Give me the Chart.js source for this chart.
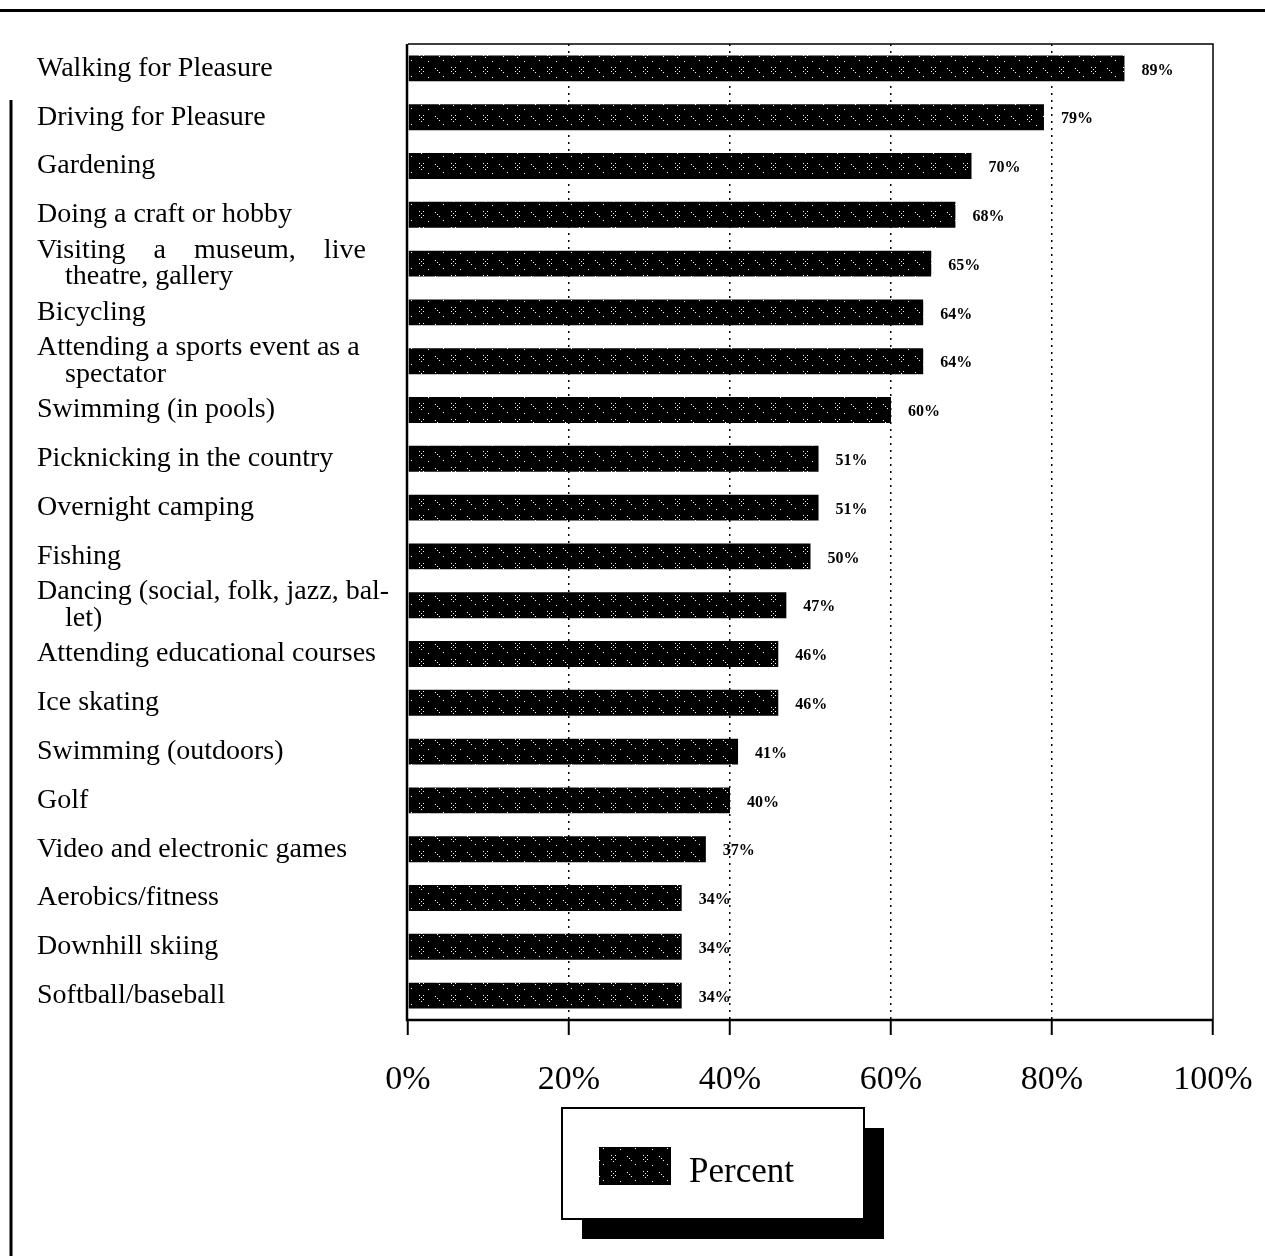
<!DOCTYPE html>
<html>
<head>
<meta charset="utf-8">
<title>Leisure activities</title>
<script src="https://cdn.jsdelivr.net/npm/chart.js@4.4.1/dist/chart.umd.min.js"></script>
<style>
  html, body { margin: 0; padding: 0; background: #fff; }
  #wrap { position: relative; width: 1265px; height: 1256px; }
</style>
</head>
<body>
<div id="wrap"><canvas id="myChart"></canvas></div>
<script>
// categorias (linhas de varias linhas como arrays)
const activities = [
    'Walking for Pleasure',
    'Driving for Pleasure',
    'Gardening',
    'Doing a craft or hobby',
    ['Visiting    a    museum,    live', '    theatre, gallery'],
    'Bicycling',
    ['Attending a sports event as a', '    spectator'],
    'Swimming (in pools)',
    'Picknicking in the country',
    'Overnight camping',
    'Fishing',
    ['Dancing (social, folk, jazz, bal-', '    let)'],
    'Attending educational courses',
    'Ice skating',
    'Swimming (outdoors)',
    'Golf',
    'Video and electronic games',
    'Aerobics/fitness',
    'Downhill skiing',
    'Softball/baseball'
];
const percentValues = [89, 79, 70, 68, 65, 64, 64, 60, 51, 51, 50, 47, 46, 46, 41, 40, 37, 34, 34, 34];
const xTicks = [0, 20, 40, 60, 80, 100];
const seriesLabel = 'Percent';

const serif = '"Liberation Serif", "DejaVu Serif", serif';

// padrão quase preto com poucos pontinhos brancos (retícula)
function makePattern() {
    const c = document.createElement('canvas');
    c.width = 32; c.height = 16;
    const g = c.getContext('2d');
    g.fillStyle = '#000';
    g.fillRect(0, 0, 32, 16);
    g.fillStyle = '#fff';
    const dots = [[3, 3], [7, 3], [5, 5], [3, 7], [7, 7], [5, 9], [19, 4], [23, 8], [21, 6], [27, 12], [12, 13]];
    dots.forEach(([x, y]) => g.fillRect(x, y, 1, 1));
    return g.createPattern(c, 'repeat');
}
const barFill = makePattern();

// moldura da página e caixa do gráfico
const framePlugin = {
    id: 'frame',
    afterDraw(chart) {
        const { ctx, chartArea: a } = chart;
        ctx.save();
        ctx.strokeStyle = '#000';
        ctx.lineWidth = 3;
        ctx.beginPath(); ctx.moveTo(0, 10.5); ctx.lineTo(chart.width, 10.5); ctx.stroke();
        ctx.beginPath(); ctx.moveTo(11, 100); ctx.lineTo(11, chart.height); ctx.stroke();
        // caixa da área do gráfico
        ctx.lineWidth = 1.5;
        ctx.beginPath(); ctx.moveTo(a.left, a.top); ctx.lineTo(a.right, a.top); ctx.lineTo(a.right, a.bottom); ctx.stroke();
        ctx.lineWidth = 2.5;
        ctx.beginPath(); ctx.moveTo(a.left - 1, a.top); ctx.lineTo(a.left - 1, a.bottom); ctx.lineTo(a.right, a.bottom); ctx.stroke();
        ctx.restore();
    }
};

// rótulos de valor ao lado de cada barra
const valueLabelPlugin = {
    id: 'valueLabels',
    afterDatasetsDraw(chart) {
        const { ctx } = chart;
        const meta = chart.getDatasetMeta(0);
        ctx.save();
        ctx.fillStyle = '#000';
        ctx.font = 'bold 16px ' + serif;
        ctx.textAlign = 'left';
        ctx.textBaseline = 'middle';
        meta.data.forEach((bar, i) => {
            ctx.fillText(percentValues[i] + '%', bar.x + 17, bar.y + 2);
        });
        ctx.restore();
    }
};

// legenda em caixa com sombra
const boxLegendPlugin = {
    id: 'boxLegend',
    afterDraw(chart) {
        const { ctx, chartArea: a } = chart;
        const ds = chart.data.datasets[0];
        const x = a.left + 154, y = a.bottom + 88, w = 302, h = 111;
        ctx.save();
        ctx.fillStyle = '#000';
        ctx.fillRect(x + 20, y + 20, w, h);
        ctx.fillStyle = '#fff';
        ctx.fillRect(x, y, w, h);
        ctx.strokeStyle = '#000';
        ctx.lineWidth = 2;
        ctx.strokeRect(x, y, w, h);
        ctx.fillStyle = ds.backgroundColor;
        ctx.fillRect(x + 37, y + 39, 72, 38);
        ctx.fillStyle = '#000';
        ctx.font = '35px ' + serif;
        ctx.textBaseline = 'middle';
        ctx.fillText(ds.label, x + 127, y + 65);
        ctx.restore();
    }
};

const ctx = document.getElementById('myChart').getContext('2d');
new Chart(ctx, {
    type: 'bar',
    data: {
        labels: activities,
        datasets: [{
            label: seriesLabel,
            data: percentValues,
            backgroundColor: barFill,
            borderWidth: 0,
            barPercentage: 0.53,
            categoryPercentage: 1.0
        }]
    },
    options: {
        indexAxis: 'y',
        responsive: true,
        maintainAspectRatio: false,
        animation: false,
        layout: {
            padding: { left: 37, top: 44, right: 52, bottom: 156 }
        },
        scales: {
            x: {
                min: 0,
                max: 100,
                afterBuildTicks: scale => {
                    scale.ticks = xTicks.map(v => ({ value: v }));
                },
                afterFit: scale => {
                    scale.height = 80;
                    scale.paddingLeft = 0;
                    scale.paddingRight = 0;
                },
                ticks: {
                    color: '#000',
                    padding: 25,
                    font: { family: serif, size: 34 },
                    callback: v => v + '%'
                },
                grid: {
                    color: c => (c.tick && (c.tick.value === 0 || c.tick.value === 100)) ? 'rgba(0,0,0,0)' : '#000',
                    lineWidth: 1.5,
                    tickColor: '#000',
                    tickWidth: 2,
                    tickLength: 15,
                    tickBorderDash: []
                },
                border: { display: false, dash: [2, 5] }
            },
            y: {
                afterFit: scale => { scale.width = 371; },
                ticks: {
                    color: '#000',
                    crossAlign: 'far',
                    autoSkip: false,
                    font: { family: serif, size: 28, lineHeight: 0.95 }
                },
                grid: { display: false, drawTicks: false },
                border: { display: false }
            }
        },
        plugins: {
            legend: { display: false },
            tooltip: { enabled: false }
        }
    },
    plugins: [framePlugin, valueLabelPlugin, boxLegendPlugin]
});
</script>
</body>
</html>
